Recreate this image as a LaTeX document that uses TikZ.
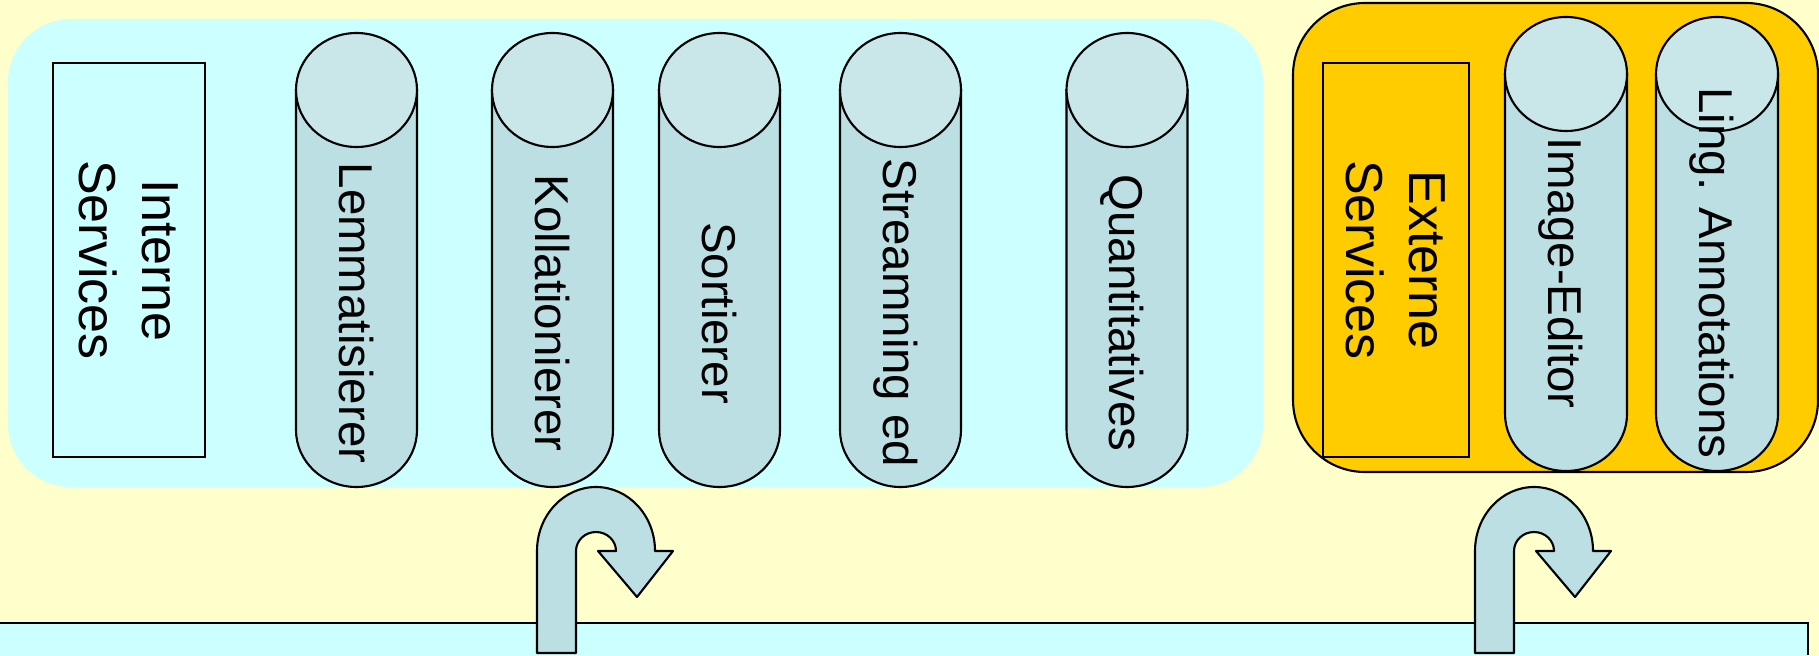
\documentclass[tikz,border=0pt]{standalone}
\usepackage{fontspec}
\setmainfont{Liberation Sans}
\definecolor{paper}{HTML}{FFFFCC}
\definecolor{intern}{HTML}{CCFFFF}
\definecolor{extern}{HTML}{FFCC00}
\definecolor{canbody}{HTML}{BBDFE3}
\definecolor{cantop}{HTML}{C9E6E8}
\tikzset{
  outline/.style={draw=black, line width=0.6pt},
  cantext/.style={rotate=-90, font=\fontsize{13.5}{16}\selectfont, text height=9.7pt, text depth=0pt, inner sep=0pt},
  boxtext/.style={rotate=-90, align=center, font=\fontsize{14.8}{17.9}\selectfont, inner sep=0pt},
}
\begin{document}
\begin{tikzpicture}
    \useasboundingbox (0,0) rectangle (18.19,6.55);
    \fill[paper] (0,0) rectangle (18.19,6.55);
    % interne Seite
    \fill[intern, rounded corners=0.63cm] (0.08,1.68) rectangle (12.63,6.36);
    \node[boxtext, outline, minimum width=3.94cm, minimum height=1.52cm] (interne) at (1.29,3.95) {Interne\\Services};
    \foreach \cx/\nm/\txt in {3.565/lemma/Lemmatisierer, 5.525/koll/Kollationierer, 7.195/sort/Sortierer, 9.005/stream/Streamning ed, 11.27/quant/Quantitatives}{
        \filldraw[outline, fill=canbody] (\cx-0.605,5.65) -- (\cx-0.605,2.25) arc[start angle=180, end angle=360, x radius=0.605, y radius=0.57] -- (\cx+0.605,5.65) -- cycle;
        \filldraw[outline, fill=cantop] (\cx,5.65) ellipse[x radius=0.605, y radius=0.57];
        \node[cantext] (\nm) at (\cx,3.42) {\txt};
    }
    % externe Seite
    \filldraw[outline, fill=extern, rounded corners=0.72cm] (12.93,1.83) rectangle (18.18,6.52);
    \node[boxtext, outline, fill=extern, minimum width=3.94cm, minimum height=1.46cm] (externe) at (13.96,3.95) {Externe\\Services};
    \foreach \cx/\nm/\txt in {15.66/image/Image-Editor, 17.17/ling/Ling. Annotations}{
        \filldraw[outline, fill=canbody] (\cx-0.61,5.81) -- (\cx-0.61,2.41) arc[start angle=180, end angle=360, x radius=0.61, y radius=0.57] -- (\cx+0.61,5.81) -- cycle;
        \filldraw[outline, fill=cantop] (\cx,5.81) ellipse[x radius=0.61, y radius=0.57];
        \node[cantext] (\nm) at (\cx,3.82) {\txt};
    }
    % Leiste unten
    \fill[intern] (0,0) rectangle (18.08,0.32);
    \draw[outline] (0,0.32) -- (18.08,0.32) -- (18.08,0);
    % Pfeile
    \foreach \dx in {0,9.38}{
        \filldraw[outline, fill=canbody, line join=round] (5.37+\dx,0.02) -- (5.37+\dx,1.04)
            arc[start angle=180, end angle=0, x radius=0.59, y radius=0.64]
            -- (6.73+\dx,1.04) -- (6.37+\dx,0.58) -- (5.98+\dx,1.04) -- (6.16+\dx,1.04)
            arc[start angle=0, end angle=180, x radius=0.20, y radius=0.19]
            -- (5.76+\dx,0.02) -- cycle;
    }
\end{tikzpicture}
\end{document}
